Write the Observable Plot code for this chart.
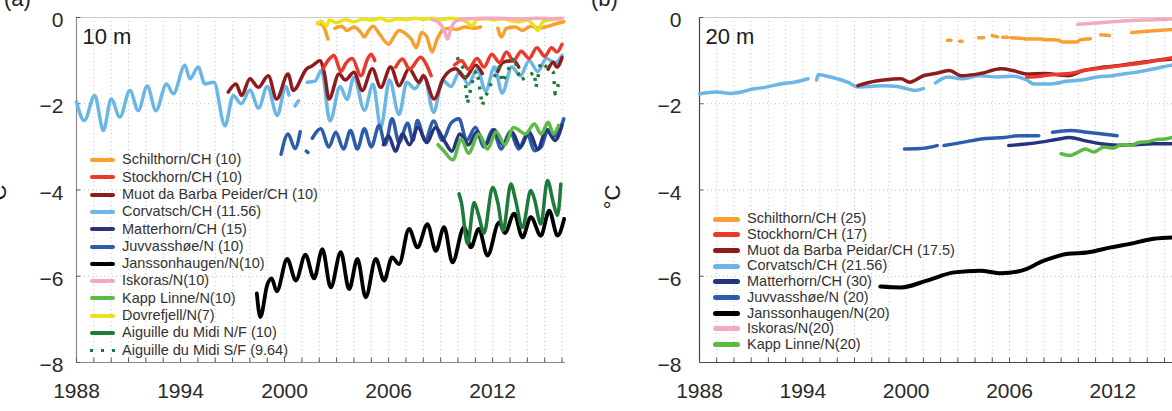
<!DOCTYPE html>
<html>
<head>
<meta charset="utf-8">
<script src="https://cdn.jsdelivr.net/npm/d3@7"></script>
<script src="https://cdn.jsdelivr.net/npm/@observablehq/plot@0.6"></script>
<style>
  html, body { margin: 0; padding: 0; background: #fff; overflow: hidden; }
  #root { position: relative; width: 1172px; height: 411px; overflow: hidden; font-family: "Liberation Sans", Arial, sans-serif; color: #2a2a2a; }
  #root svg { position: absolute; top: 0; overflow: visible; }
  .lbl { position: absolute; white-space: nowrap; }
</style>
</head>
<body>
<div id="root"></div>
<script>
// ---------- tick labels / categories ----------
const xTickYears = [1988, 1994, 2000, 2006, 2012];
const yTickValues = [-8, -6, -4, -2, 0];
const gridYears = d3.range(1989, 2017);
const minorYears = d3.range(1988, 2017);

const names10 = ["Schilthorn/CH (10)", "Stockhorn/CH (10)", "Muot da Barba Peider/CH (10)", "Corvatsch/CH (11.56)",
  "Matterhorn/CH (15)", "Juvvasshøe/N (10)", "Janssonhaugen/N(10)", "Iskoras/N(10)", "Kapp Linne/N(10)",
  "Dovrefjell/N(7)", "Aiguille du Midi N/F (10)", "Aiguille du Midi S/F (9.64)"];
const names20 = ["Schilthorn/CH (25)", "Stockhorn/CH (17)", "Muot da Barba Peidar/CH (17.5)", "Corvatsch/CH (21.56)",
  "Matterhorn/CH (30)", "Juvvasshøe/N (20)", "Janssonhaugen/N(20)", "Iskoras/N(20)", "Kapp Linne/N(20)"];

// ---------- series values: [year, °C]; null = gap ----------
const corvatsch10 = [[1988.0,-1.96],[1988.45,-2.39],[1989.05,-1.81],[1989.55,-2.62],[1990.0,-1.89],[1990.5,-2.31],[1991.08,-1.69],[1991.56,-2.16],[1992.08,-1.59],[1992.58,-2.16],[1993.19,-1.54],[1993.58,-1.77],[1994.25,-1.11],[1994.54,-1.42],[1995.02,-1.15],[1995.4,-1.54],[1995.92,-1.5],[1996.56,-2.51],[1997.04,-1.81],[1997.5,-2.0],[1998.0,-1.68],[1998.5,-2.1],[1999.0,-1.6],[1999.58,-2.27],[2000.06,-1.6],[2000.25,-1.8],[2000.3,null],[2000.6,-2.05],[2000.8,-1.93],[2000.9,null],[2001.3,-1.5],[2001.75,-1.48],[2002.13,-1.23],[2002.62,-2.4],[2003.2,-1.6],[2003.6,-1.9],[2004.0,-1.38],[2004.6,-2.15],[2005.1,-1.55],[2005.55,-2.55],[2006.05,-1.45],[2006.6,-2.25],[2007.05,-1.5],[2007.5,-1.65],[2008.05,-1.38],[2008.6,-2.2],[2009.1,-1.45],[2009.6,-1.6],[2010.1,-1.25],[2010.6,-1.55],[2011.1,-1.2],[2011.6,-1.7],[2012.1,-1.15],[2012.55,-1.75],[2013.1,-1.15],[2013.6,-1.35],[2014.1,-1.0],[2014.6,-1.25],[2015.1,-0.95],[2015.6,-1.05],[2016.0,-0.88]];
const muot10 = [[1996.75,-1.73],[1997.2,-1.54],[1997.52,-1.81],[1998.0,-1.42],[1998.48,-1.62],[1999.06,-1.35],[1999.54,-1.89],[2000.2,-1.31],[2000.5,-1.69],[2001.27,-1.19],[2001.6,-1.12],[2002.04,-1.0],[2002.3,-1.3],[2002.56,-1.89],[2003.14,-1.31],[2003.5,-1.45],[2004.0,-1.27],[2004.48,-1.69],[2005.06,-1.19],[2005.54,-1.62],[2006.12,-1.15],[2006.6,-1.58],[2007.18,-1.19],[2007.75,-1.5],[2008.0,-1.35],[2008.62,-1.89],[2009.2,-1.38],[2009.87,-1.19],[2010.4,-1.4],[2011.02,-1.11],[2011.4,-1.3],[2011.6,null],[2012.3,-1.25],[2012.6,-1.04],[2013.23,-1.0],[2013.5,-1.15],[2013.7,null],[2015.2,-1.2],[2015.5,-1.04],[2015.7,-1.15],[2016.0,-0.93]];
const stockhorn10 = [[2002.2,-1.2],[2002.5,-1.0],[2002.85,-0.88],[2003.25,-1.25],[2003.55,-1.05],[2003.9,-0.95],[2004.4,-1.35],[2004.8,-0.95],[2005.0,-0.85],[2005.2,-1.0],[2005.3,null],[2006.4,-1.15],[2006.8,-0.96],[2007.2,-1.2],[2007.85,-0.92],[2008.2,-1.11],[2008.45,-1.35],[2008.6,null],[2009.8,-1.1],[2010.2,-1.0],[2010.6,-1.2],[2011.1,-0.95],[2011.5,-1.15],[2011.95,-0.85],[2012.4,-1.05],[2012.8,-0.8],[2013.2,-1.0],[2013.65,-0.78],[2014.1,-0.95],[2014.55,-0.7],[2015.0,-0.9],[2015.4,-0.7],[2015.7,-0.8],[2016.0,-0.62]];
const schilthorn10 = [[2001.9,-0.12],[2002.2,-0.18],[2002.5,-0.5],[2002.6,null],[2002.9,-0.25],[2003.3,-0.2],[2003.6,-0.3],[2004.0,-0.22],[2004.4,-0.35],[2004.6,-0.45],[2004.85,-0.3],[2005.1,-0.2],[2005.5,-0.4],[2006.0,-0.62],[2006.3,-0.45],[2006.6,-0.3],[2007.0,-0.38],[2007.3,-0.5],[2007.6,-0.7],[2007.9,-0.35],[2008.2,-0.45],[2008.5,-0.8],[2008.8,-0.5],[2009.1,-0.3],[2009.5,-0.25],[2009.9,-0.28],[2010.4,-0.22],[2010.9,-0.25],[2011.3,-0.22],[2011.5,null],[2012.3,-0.25],[2012.5,-0.45],[2012.8,-0.25],[2013.3,-0.22],[2013.7,-0.3],[2014.2,-0.2],[2014.7,-0.25],[2015.2,-0.2],[2015.6,-0.15],[2016.1,-0.1]];
const dovrefjell10 = [[2001.9,-0.15],[2002.1,-0.08],[2002.4,-0.2],[2002.6,-0.06],[2003.0,-0.12],[2003.5,-0.05],[2004.0,-0.1],[2004.5,-0.04],[2005.0,-0.06],[2005.5,-0.02],[2006.0,-0.08],[2006.5,-0.03],[2007.0,-0.05],[2007.5,-0.02],[2008.0,-0.04],[2008.5,-0.02],[2009.0,-0.05],[2009.5,-0.02],[2010.0,-0.03],[2010.5,-0.1],[2010.8,-0.2],[2011.1,-0.05],[2011.6,-0.03],[2012.1,-0.05],[2012.6,-0.03],[2013.1,-0.08],[2013.6,-0.1],[2014.0,-0.05],[2014.4,-0.2],[2014.6,-0.3],[2014.9,-0.1],[2015.4,-0.05],[2016.0,-0.03]];
const iskoras10 = [[2008.5,-0.05],[2008.9,-0.12],[2009.2,-0.3],[2009.4,-0.5],[2009.6,-0.25],[2009.9,-0.08],[2010.5,-0.03],[2011.5,-0.02],[2012.5,-0.02],[2013.5,-0.04],[2014.5,-0.02],[2015.5,-0.03],[2016.0,-0.02]];
const juvvasshoe10 = [[1999.8,-3.17],[2000.2,-2.7],[2000.6,-3.04],[2000.9,-2.65],[2001.0,null],[2001.25,-3.1],[2001.35,-3.13],[2001.4,null],[2001.6,-2.8],[2002.08,-2.58],[2002.56,-3.0],[2002.95,-2.66],[2003.4,-3.05],[2003.8,-2.62],[2004.2,-3.05],[2004.6,-2.58],[2005.0,-3.0],[2005.45,-2.5],[2005.8,-2.95],[2006.2,-2.35],[2006.6,-2.9],[2007.1,-2.45],[2007.4,-2.85],[2007.66,-2.39],[2008.1,-2.85],[2008.6,-2.4],[2009.1,-2.85],[2009.6,-2.45],[2010.06,-2.35],[2010.5,-2.85],[2011.0,-2.55],[2011.5,-3.0],[2012.0,-2.6],[2012.5,-3.05],[2013.0,-2.65],[2013.5,-3.05],[2014.0,-2.7],[2014.4,-3.09],[2014.8,-3.0],[2015.2,-2.6],[2015.6,-2.75],[2016.1,-2.35]];
const matterhorn10 = [[2005.7,-2.95],[2006.0,-2.75],[2006.4,-3.1],[2006.8,-2.7],[2007.2,-2.95],[2007.7,-2.55],[2008.2,-2.9],[2008.7,-2.55],[2009.2,-2.85],[2009.65,-3.1],[2010.1,-2.7],[2010.6,-2.95],[2011.1,-2.65],[2011.6,-2.95],[2012.1,-2.6],[2012.6,-2.95],[2013.1,-2.65],[2013.6,-3.0],[2014.1,-2.65],[2014.6,-3.05],[2015.1,-2.6],[2015.6,-2.85],[2016.0,-2.5]];
const kappLinne10 = [[2008.85,-2.95],[2009.2,-3.1],[2009.7,-3.3],[2010.2,-2.82],[2010.6,-3.15],[2011.2,-2.7],[2011.7,-3.05],[2012.2,-2.65],[2012.7,-2.95],[2013.2,-2.55],[2013.9,-2.7],[2014.4,-2.47],[2014.8,-2.7],[2015.2,-2.43],[2015.5,-2.7],[2015.8,-2.5]];
const janssonhaugen10 = [[1998.4,-6.4],[1998.6,-6.95],[1999.0,-6.2],[1999.25,-6.05],[1999.55,-6.35],[2000.15,-5.6],[2000.65,-6.1],[2001.2,-5.5],[2001.7,-6.05],[2002.18,-5.37],[2002.66,-6.26],[2003.24,-5.44],[2003.72,-6.3],[2004.2,-5.6],[2004.68,-6.49],[2005.26,-5.6],[2005.74,-6.1],[2006.2,-5.56],[2006.6,-5.72],[2007.18,-4.9],[2007.66,-5.33],[2008.24,-4.79],[2008.72,-5.41],[2009.2,-4.86],[2009.68,-5.68],[2010.35,-4.86],[2010.74,-5.33],[2011.2,-4.9],[2011.7,-5.52],[2012.37,-4.75],[2012.7,-5.0],[2013.24,-4.55],[2013.72,-5.1],[2014.2,-4.63],[2014.78,-5.06],[2015.26,-4.48],[2015.74,-5.06],[2016.12,-4.67]];
const aiguilleNF10 = [[2010.06,-4.09],[2010.2,-4.3],[2010.55,-5.25],[2010.93,-4.29],[2011.2,-4.6],[2011.5,-5.0],[2012.0,-3.94],[2012.3,-4.3],[2012.6,-4.94],[2013.05,-3.86],[2013.3,-4.2],[2013.72,-4.87],[2014.2,-4.01],[2014.4,-4.2],[2014.78,-4.79],[2015.16,-3.78],[2015.5,-4.3],[2015.74,-4.59],[2015.93,-3.86]];
const aiguilleSF10 = [[2009.96,-0.92],[2010.06,-1.04],[2010.35,-1.19],[2010.45,-1.62],[2010.54,-2.0],[2010.93,-1.31],[2011.1,-1.23],[2011.4,-2.04],[2011.8,-1.62],[2012.37,-1.15],[2012.56,-1.5],[2013.23,-0.92],[2013.6,-1.46],[2014.4,-1.27],[2014.5,-1.62],[2014.77,-1.04],[2015.5,-1.27],[2015.6,-1.77],[2015.9,-1.42]];

const corvatsch20 = [[1988.0,-1.77],[1989.0,-1.73],[1989.8,-1.76],[1990.5,-1.72],[1991.1,-1.66],[1991.8,-1.62],[1992.7,-1.54],[1993.5,-1.5],[1994.3,-1.42],[1994.4,null],[1994.8,-1.45],[1994.9,-1.32],[1995.3,-1.35],[1996.0,-1.42],[1996.6,-1.5],[1997.2,-1.61],[1997.9,-1.6],[1998.7,-1.58],[1999.5,-1.6],[2000.0,-1.65],[2000.5,-1.69],[2001.0,-1.65],[2001.3,null],[2001.7,-1.52],[2002.4,-1.38],[2003.2,-1.42],[2004.3,-1.35],[2005.3,-1.38],[2006.2,-1.36],[2007.0,-1.45],[2007.4,-1.54],[2008.4,-1.54],[2009.3,-1.48],[2010.2,-1.45],[2011.1,-1.38],[2012.0,-1.35],[2012.8,-1.3],[2013.6,-1.25],[2014.4,-1.19],[2015.35,-1.11],[2016.4,-1.05]];
const muot20 = [[1997.2,-1.58],[1997.9,-1.5],[1998.7,-1.45],[1999.7,-1.42],[2000.2,-1.5],[2001.0,-1.35],[2001.7,-1.3],[2002.5,-1.23],[2003.2,-1.35],[2004.3,-1.3],[2005.5,-1.19],[2006.2,-1.23],[2007.0,-1.31],[2008.0,-1.3],[2009.4,-1.35],[2010.3,-1.23],[2011.5,-1.15],[2012.6,-1.1],[2013.5,-1.05],[2014.4,-1.0],[2015.4,-0.96],[2016.4,-0.9]];
const stockhorn20 = [[2007.0,-1.38],[2007.8,-1.36],[2008.6,-1.32],[2009.5,-1.3],[2010.3,-1.23],[2011.3,-1.18],[2012.6,-1.11],[2013.8,-1.05],[2015.0,-0.96],[2016.4,-0.88]];
const schilthorn20 = [[2002.4,-0.53],[2002.6,-0.53],[2002.7,null],[2003.1,-0.55],[2003.25,-0.55],[2003.3,null],[2004.2,-0.47],[2004.5,-0.47],[2004.6,null],[2005.0,-0.42],[2005.3,-0.45],[2005.4,null],[2005.6,-0.46],[2005.9,-0.46],[2006.0,null],[2006.1,-0.47],[2006.8,-0.49],[2007.0,-0.5],[2007.8,-0.5],[2008.0,-0.51],[2008.8,-0.52],[2009.1,-0.57],[2009.9,-0.57],[2010.1,-0.52],[2010.7,-0.49],[2010.8,null],[2011.3,-0.4],[2011.8,-0.42],[2011.9,null],[2013.1,-0.35],[2014.0,-0.32],[2015.0,-0.29],[2016.4,-0.25]];
const iskoras20 = [[2009.95,-0.16],[2011.0,-0.13],[2012.6,-0.08],[2014.4,-0.05],[2016.4,-0.02]];
const matterhorn20 = [[2005.96,-2.97],[2006.8,-2.94],[2007.8,-2.89],[2008.7,-2.83],[2009.5,-2.78],[2010.3,-2.85],[2011.3,-2.93],[2012.3,-2.96],[2013.3,-2.95],[2014.4,-2.93],[2015.5,-2.93],[2016.4,-2.92]];
const juvvasshoe20 = [[1999.9,-3.05],[2000.8,-3.04],[2001.8,-2.97],[2001.9,null],[2002.2,-2.97],[2003.35,-2.89],[2004.5,-2.81],[2005.7,-2.78],[2006.6,-2.74],[2007.7,-2.74],[2007.9,null],[2008.5,-2.66],[2009.55,-2.62],[2010.5,-2.66],[2011.4,-2.7],[2012.25,-2.74]];
const kappLinne20 = [[2009.0,-3.16],[2009.5,-3.2],[2010.0,-3.12],[2010.4,-3.05],[2010.9,-3.12],[2011.5,-3.0],[2012.0,-3.03],[2012.5,-2.95],[2013.0,-2.96],[2013.5,-2.9],[2014.0,-2.88],[2014.6,-2.83],[2015.0,-2.82],[2015.5,-2.78],[2016.4,-2.75]];
const janssonhaugen20 = [[1998.5,-6.24],[1999.7,-6.26],[2001.2,-6.1],[2002.8,-5.91],[2004.3,-5.87],[2005.5,-5.93],[2006.7,-5.87],[2008.0,-5.64],[2009.4,-5.48],[2010.5,-5.45],[2011.9,-5.33],[2013.0,-5.25],[2014.2,-5.14],[2015.5,-5.1],[2016.4,-5.08]];

// ---------- styles ----------
const colors = {
  schilthorn: "#f7a030", stockhorn: "#eb3a2c", muot: "#8e1c1c", corvatsch: "#6cb6e6",
  matterhorn: "#26337f", juvvasshoe: "#2c5daa", janssonhaugen: "#000000", iskoras: "#f4aabd",
  kappLinne: "#5cba45", dovrefjell: "#ebe21a", aiguille: "#1d7a3b"
};
const legendColors10 = [colors.schilthorn, colors.stockhorn, colors.muot, colors.corvatsch, colors.matterhorn,
  colors.juvvasshoe, colors.janssonhaugen, colors.iskoras, colors.kappLinne, colors.dovrefjell, colors.aiguille, colors.aiguille];
const legendColors20 = legendColors10.slice(0, 9);

const FONT = '"Liberation Sans", Arial, sans-serif';

function panel({left, width, marginLeft, marginRight, xmax, padY, label, series, leftAxisColor, sw}) {
  const line = (data, color, extra = {}) => Plot.line(data, {x: d => d[0], y: d => d[1], stroke: color,
    strokeWidth: sw, strokeLinejoin: "round", strokeLinecap: "round", curve: "monotone-x", ...extra});
  const svg = Plot.plot({
    width, height: 411, marginTop: 17, marginBottom: 49, marginLeft, marginRight,
    style: {fontFamily: FONT, background: "transparent", color: "#2a2a2a"},
    x: {domain: [1988, xmax]},
    y: {domain: [-8, 0]},
    marks: [
      Plot.ruleX(gridYears, {stroke: "#c2c2c2", strokeDasharray: "1,3", strokeWidth: 1}),
      Plot.ruleY([-6, -4, -2], {stroke: "#c2c2c2", strokeDasharray: "1,3", strokeWidth: 1}),
      Plot.ruleY([0], {stroke: "#cccccc", strokeWidth: 1}),
      Plot.ruleX([1988], {stroke: leftAxisColor, strokeWidth: 1.2}),
      Plot.ruleY([-8], {stroke: leftAxisColor, strokeWidth: 1}),
      Plot.ruleX(minorYears, {y1: -8, y2: -7.9, stroke: "#555", strokeWidth: 1}),
      Plot.ruleY(yTickValues, {x1: 1988, x2: 1988 + 0.25, stroke: "#555", strokeWidth: 1}),
      ...series.map(s => line(s.data, s.color, s.extra || {})),
      Plot.axisX({ticks: xTickYears, tickFormat: d => String(d), tickSize: 0, tickPadding: 21, fontSize: 21, label: null}),
      Plot.axisY({ticks: yTickValues, tickSize: 0, tickPadding: padY, fontSize: 21, dy: 3, label: null}),
      Plot.text([label], {frameAnchor: "top-left", dx: 6, dy: 11, lineAnchor: "top", textAnchor: "start", fontSize: 22, fill: "#1a1a1a"})
    ]
  });
  svg.style.left = left + "px";
  return svg;
}

const root = document.getElementById("root");

root.appendChild(panel({
  left: 0, width: 580, marginLeft: 76, marginRight: 15, xmax: 2016.2, padY: 13, label: "10 m", leftAxisColor: "#8a8a8a", sw: 3.5,
  series: [
    {data: corvatsch10, color: colors.corvatsch},
    {data: muot10, color: colors.muot},
    {data: stockhorn10, color: colors.stockhorn},
    {data: schilthorn10, color: colors.schilthorn},
    {data: dovrefjell10, color: colors.dovrefjell},
    {data: iskoras10, color: colors.iskoras},
    {data: juvvasshoe10, color: colors.juvvasshoe},
    {data: matterhorn10, color: colors.matterhorn},
    {data: kappLinne10, color: colors.kappLinne},
    {data: janssonhaugen10, color: colors.janssonhaugen, extra: {strokeWidth: 3.8}},
    {data: aiguilleNF10, color: colors.aiguille},
    {data: aiguilleSF10, color: colors.aiguille, extra: {strokeDasharray: "3,7", strokeLinecap: "butt", curve: "linear"}}
  ]
}));

root.appendChild(panel({
  left: 600, width: 600, marginLeft: 99, marginRight: 10, xmax: 2016.51, padY: 18, label: "20 m", leftAxisColor: "#444", sw: 3.5,
  series: [
    {data: corvatsch20, color: colors.corvatsch},
    {data: muot20, color: colors.muot},
    {data: stockhorn20, color: colors.stockhorn},
    {data: schilthorn20, color: colors.schilthorn},
    {data: iskoras20, color: colors.iskoras},
    {data: juvvasshoe20, color: colors.juvvasshoe},
    {data: matterhorn20, color: colors.matterhorn},
    {data: kappLinne20, color: colors.kappLinne},
    {data: janssonhaugen20, color: colors.janssonhaugen, extra: {strokeWidth: 4}}
  ]
}));

// ---------- legends ----------
function legend(labels, cols, {x0, barW, barH, xText, y0, dy, fs}, dottedLast) {
  labels.forEach((t, i) => {
    const yc = y0 + i * dy;
    if (dottedLast && i === labels.length - 1) {
      [0, 1, 2].forEach(k => {
        const d = document.createElement("div");
        d.style.cssText = `position:absolute;left:${x0 + k * 11}px;top:${yc - 1.5}px;width:3px;height:3px;background:${cols[i]}`;
        root.appendChild(d);
      });
    } else {
      const b = document.createElement("div");
      b.style.cssText = `position:absolute;left:${x0}px;top:${yc - barH / 2}px;width:${barW}px;height:${barH}px;background:${cols[i]};border-radius:${barH / 2}px`;
      root.appendChild(b);
    }
    const tx = document.createElement("div");
    tx.className = "lbl";
    tx.textContent = t;
    tx.style.cssText += `left:${xText}px;top:${yc - fs * 0.6}px;font-size:${fs}px;line-height:${fs * 1.2}px;color:#333`;
    root.appendChild(tx);
  });
}
legend(names10, legendColors10, {x0: 90, barW: 25, barH: 4, xText: 122, y0: 160, dy: 17.3, fs: 14.5}, true);
legend(names20, legendColors20, {x0: 713, barW: 27, barH: 5, xText: 747, y0: 219, dy: 15.7, fs: 14.5}, false);

// ---------- panel letters and axis titles ----------
function addText(t, css) {
  const d = document.createElement("div");
  d.className = "lbl";
  d.textContent = t;
  d.style.cssText += css;
  root.appendChild(d);
}
addText("(a)", "left:4px;top:-12px;font-size:22px;line-height:22px;color:#222");
addText("(b)", "left:591px;top:-12px;font-size:22px;line-height:22px;color:#222");
addText("°C", "left:-13px;top:186px;font-size:22px;line-height:22px;color:#222;transform:rotate(-90deg);transform-origin:center");
addText("°C", "left:601px;top:186px;font-size:22px;line-height:22px;color:#222;transform:rotate(-90deg);transform-origin:center");
</script>
</body>
</html>
